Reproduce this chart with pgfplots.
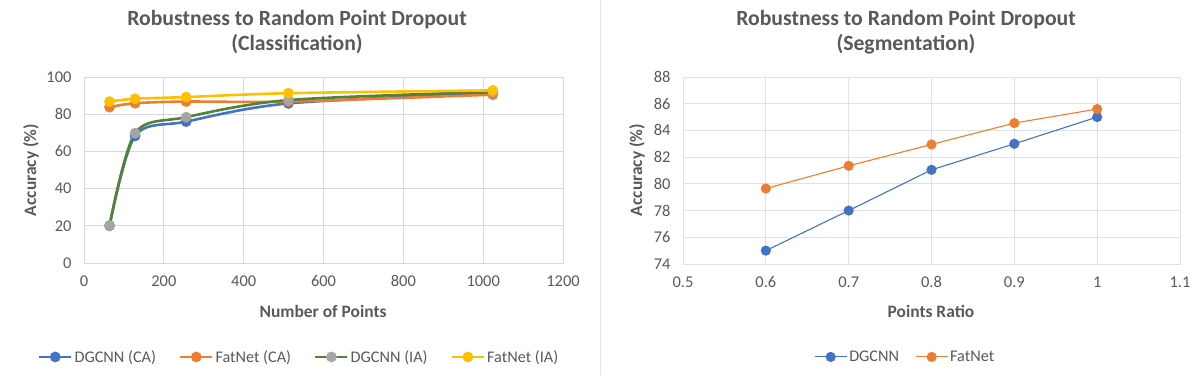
\documentclass[border=0pt]{standalone}
\usepackage{fontspec}
\setmainfont{Carlito}
\usepackage{pgfplots}
\pgfplotsset{compat=1.18}
\definecolor{cblue}{HTML}{4472C4}
\definecolor{corange}{HTML}{ED7D31}
\definecolor{cgray}{HTML}{A5A5A5}
\definecolor{cyellow}{HTML}{FFC000}
\definecolor{cgreen}{HTML}{548235}
\definecolor{txt}{HTML}{595959}
\definecolor{gridc}{HTML}{D9D9D9}
\definecolor{gridr}{HTML}{DEE1E8}
\pgfplotsset{
  exstyle/.style={
    scale only axis,
    anchor=south west,
    grid=major,
    major grid style={color=#1, line width=0.9bp},
    axis line style={color=#1, line width=0.9bp},
    major tick length=0pt,
    tick label style={font=\fontsize{16.5}{18}\selectfont, color=txt},
    /pgf/number format/assume math mode=true,
    /pgf/number format/1000 sep={},
    xticklabel style={yshift=-9bp},
    yticklabel style={xshift=-9bp},
    legend style={draw=none, fill=none, font=\fontsize{16.3}{18}\selectfont, text=txt},
    legend cell align=left,
    legend columns=-1,
    legend image code/.code={\draw[mark repeat=2,mark phase=2,##1] plot coordinates {(0bp,0bp) (16bp,0bp) (32bp,0bp)};},
  }
}
\begin{document}
\begin{tikzpicture}[x=1bp,y=1bp]
\useasboundingbox (0,0) rectangle (1196,375);
\draw[color=gridc!70, line width=0.8bp] (600,0) -- (600,375);
\begin{axis}[exstyle=gridc,
  at={(84bp,112bp)}, width=479bp, height=186bp,
  xmin=0, xmax=1200, ymin=0, ymax=100,
  xtick={0,200,...,1200}, ytick={0,20,...,100},
  legend style={at={(0.449,-0.505)}, anchor=center,
    /tikz/every even column/.append style={column sep=21bp}},
]
\addplot[cblue, line width=2.6bp, smooth, tension=0.5, mark=*, mark size=4bp, mark options={fill=cblue, draw=cblue}]
  coordinates {(64,20) (128,68.3) (256,76) (512,85.8) (1024,91.3)};
\addlegendentry{DGCNN (CA)}
\addplot[corange, line width=2.6bp, smooth, tension=0.5, mark=*, mark size=4bp, mark options={fill=corange, draw=corange}]
  coordinates {(64,83.8) (128,85.9) (256,86.8) (512,86.8) (1024,90.5)};
\addlegendentry{FatNet (CA)}
\addplot[cgreen, line width=2.6bp, smooth, tension=0.5, mark=*, mark size=4bp, mark options={fill=cgray, draw=cgray}]
  coordinates {(64,20.2) (128,69.8) (256,78.4) (512,87.6) (1024,92.0)};
\addlegendentry{DGCNN (IA)}
\addplot[cyellow, line width=2.6bp, smooth, tension=0.5, mark=*, mark size=4bp, mark options={fill=cyellow, draw=cyellow}]
  coordinates {(64,86.8) (128,88.3) (256,89.2) (512,91.3) (1024,92.8)};
\addlegendentry{FatNet (IA)}
\end{axis}
\begin{axis}[exstyle=gridr,
  at={(683bp,111bp)}, width=497bp, height=187bp,
  xmin=0.5, xmax=1.1, ymin=74, ymax=88,
  xtick={0.5,0.6,0.7,0.8,0.9,1.0,1.1},
  xticklabels={0.5,0.6,0.7,0.8,0.9,1,1.1},
  ytick={74,76,...,88},
  legend style={at={(0.447,-0.497)}, anchor=center,
    /tikz/every even column/.append style={column sep=14bp}},
]
\addplot[cblue, line width=1.1bp, mark=*, mark size=4.5bp, mark options={fill=cblue, draw=cblue}]
  coordinates {(0.6,75.0) (0.7,78.0) (0.8,81.05) (0.9,83.0) (1.0,85.0)};
\addlegendentry{DGCNN}
\addplot[corange, line width=1.1bp, mark=*, mark size=4.5bp, mark options={fill=corange, draw=corange}]
  coordinates {(0.6,79.65) (0.7,81.35) (0.8,82.95) (0.9,84.55) (1.0,85.6)};
\addlegendentry{FatNet}
\end{axis}
\node[font=\bfseries\fontsize{21.8}{25}\selectfont, text=txt, align=center] at (297,343) {Robustness to Random Point Dropout\\(Classification)};
\node[font=\bfseries\fontsize{21.8}{25}\selectfont, text=txt, align=center] at (906,343) {Robustness to Random Point Dropout\\(Segmentation)};
\node[font=\bfseries\fontsize{17.5}{20}\selectfont, text=txt, rotate=90] at (31,205) {Accuracy (\%)};
\node[font=\bfseries\fontsize{17.5}{20}\selectfont, text=txt] at (323,64) {Number of Points};
\node[font=\bfseries\fontsize{17.5}{20}\selectfont, text=txt, rotate=90] at (637,205) {Accuracy (\%)};
\node[font=\bfseries\fontsize{17.5}{20}\selectfont, text=txt] at (931,64) {Points Ratio};
\end{tikzpicture}
\end{document}
